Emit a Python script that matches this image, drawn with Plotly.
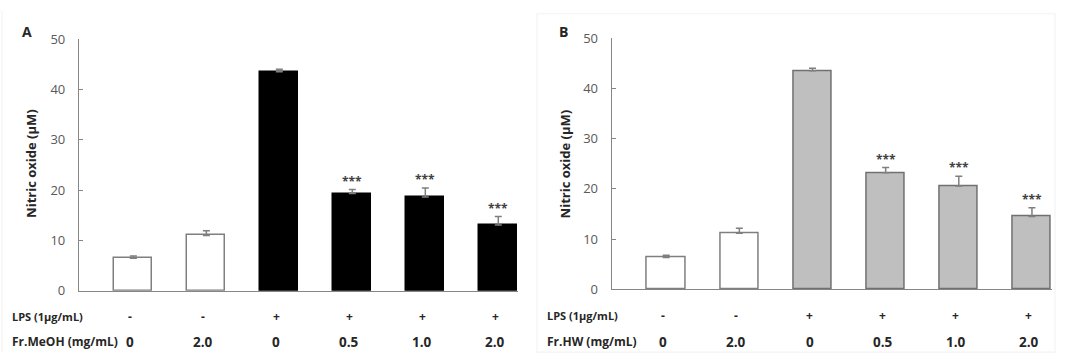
import plotly.graph_objects as go

# ---------------- data ----------------
groups = [0, 1, 2, 3, 4, 5]
lps_row = ["-", "-", "+", "+", "+", "+"]
dose_row = ["0", "2.0", "0", "0.5", "1.0", "2.0"]

no_A = [6.45, 11.0, 43.5, 19.3, 18.65, 13.05]
err_A = [0.45, 0.9, 0.5, 0.8, 1.75, 1.7]
stars_A = ["", "", "", "***", "***", "***"]

no_B = [6.35, 11.15, 43.5, 23.2, 20.55, 14.5]
err_B = [0.45, 1.0, 0.5, 1.05, 1.95, 1.75]
stars_B = ["", "", "", "***", "***", "***"]

row_label_lps = "LPS (1μg/mL)"
row_label_A = "Fr.MeOH (mg/mL)"
row_label_B = "Fr.HW (mg/mL)"
y_title = "Nitric oxide (μM)"
y_ticks = [0, 10, 20, 30, 40, 50]

# ---------------- styling ----------------
W, H = 1067, 362
FONT = "Open Sans"
AX = "#868686"
TXT = "#262626"

def px(x):
    return x / W

def py(y):
    return (H - y) / H

fill_A = ["#ffffff", "#ffffff", "#000000", "#000000", "#000000", "#000000"]
line_A = ["#7f7f7f", "#7f7f7f", "#000000", "#000000", "#000000", "#000000"]
fill_B = ["#ffffff", "#ffffff", "#bfbfbf", "#bfbfbf", "#bfbfbf", "#bfbfbf"]
line_B = ["#7f7f7f", "#7f7f7f", "#707070", "#707070", "#707070", "#707070"]

fig = go.Figure()

def add_bars(vals, errs, fill, line, xa, ya):
    fig.add_trace(go.Bar(
        x=groups, y=vals, width=0.52,
        marker=dict(color=fill, line=dict(color=line, width=1.5)),
        error_y=dict(type="data", symmetric=False, array=errs,
                     arrayminus=[0] * len(errs), color="#7f7f7f",
                     thickness=1.5, width=3.5),
        xaxis=xa, yaxis=ya, showlegend=False, hoverinfo="skip"))

add_bars(no_A, err_A, fill_A, line_A, "x", "y")
add_bars(no_B, err_B, fill_B, line_B, "x2", "y2")

xr = [-0.745, 5.27]
xcommon = dict(range=xr, showgrid=False, zeroline=False, showticklabels=False,
               ticks="", showline=True, linecolor=AX, linewidth=1.2, fixedrange=True)
ycommon = dict(range=[0, 50], tickvals=y_ticks, showgrid=False, zeroline=False,
               showline=True, linecolor=AX, linewidth=1.2, ticks="inside",
               ticklen=4, tickcolor=AX, tickwidth=1.2,
               tickfont=dict(family=FONT, size=13, color="#595959"),
               ticklabelstandoff=10)

fig.update_layout(
    width=W, height=H, margin=dict(l=0, r=0, t=0, b=0),
    paper_bgcolor="white", plot_bgcolor="white",
    font=dict(family=FONT),
    xaxis=dict(domain=[px(79), px(518)], anchor="y", **xcommon),
    yaxis=dict(domain=[py(296.5), py(31.7)], anchor="x", **ycommon),
    xaxis2=dict(domain=[px(611.7), px(1051.7)], anchor="y2", **xcommon),
    yaxis2=dict(domain=[py(295), py(30.7)], anchor="x2", **ycommon),
    bargap=0,
)

ann = []

def stars(vals, errs, labels, xref, yref):
    for g, v, e, s in zip(groups, vals, errs, labels):
        if s:
            ann.append(dict(x=g, y=v + e, xref=xref, yref=yref, text="<b>" + s + "</b>",
                            showarrow=False, yanchor="bottom", yshift=-2,
                            font=dict(family=FONT, size=12, color="#404040")))

stars(no_A, err_A, stars_A, "x", "y")
stars(no_B, err_B, stars_B, "x2", "y2")

def table(xref, label2, xlab, y1, y2):
    ann.append(dict(x=px(xlab), y=py(y1), xref="paper", yref="paper",
                    text="<b>" + row_label_lps + "</b>", showarrow=False,
                    xanchor="left", yanchor="middle",
                    font=dict(family=FONT, size=11, color=TXT)))
    ann.append(dict(x=px(xlab), y=py(y2), xref="paper", yref="paper",
                    text="<b>" + label2 + "</b>", showarrow=False,
                    xanchor="left", yanchor="middle",
                    font=dict(family=FONT, size=12, color=TXT)))
    for g, s, d in zip(groups, lps_row, dose_row):
        ann.append(dict(x=g, y=py(y1), xref=xref, yref="paper", text="<b>" + s + "</b>",
                        showarrow=False, xshift=-3, yanchor="middle",
                        font=dict(family=FONT, size=12, color=TXT)))
        ann.append(dict(x=g, y=py(y2), xref=xref, yref="paper", text="<b>" + d + "</b>",
                        showarrow=False, xshift=-3, yanchor="middle",
                        font=dict(family=FONT, size=13.5, color=TXT)))

table("x", row_label_A, 10, 324, 350)
table("x2", row_label_B, 545, 323, 350)

# panel letters and y titles
for letter, lx, tx in [("A", 27, 31), ("B", 563, 564.5)]:
    ann.append(dict(x=px(lx), y=py(24), xref="paper", yref="paper",
                    text="<b>" + letter + "</b>", showarrow=False,
                    xanchor="center", yanchor="middle",
                    font=dict(family=FONT, size=14, color=TXT)))
    ann.append(dict(x=px(tx), y=py(163), xref="paper", yref="paper",
                    text="<b>" + y_title + "</b>", showarrow=False, textangle=-90,
                    xanchor="center", yanchor="middle",
                    font=dict(family=FONT, size=13, color=TXT)))

fig.update_layout(annotations=ann)

# faint frames of the original figure panels
fig.add_shape(type="rect", xref="paper", yref="paper",
              x0=px(537), x1=px(1055), y0=py(361), y1=py(5),
              line=dict(color="#f4f4f4", width=1.2), layer="below")
fig.add_shape(type="line", xref="paper", yref="paper",
              x0=px(2), x1=px(2), y0=py(361), y1=py(2),
              line=dict(color="#f4f4f4", width=1.2), layer="below")

fig.write_html("out.html",
               post_script="document.body.style.margin='0';document.body.style.padding='0';")
